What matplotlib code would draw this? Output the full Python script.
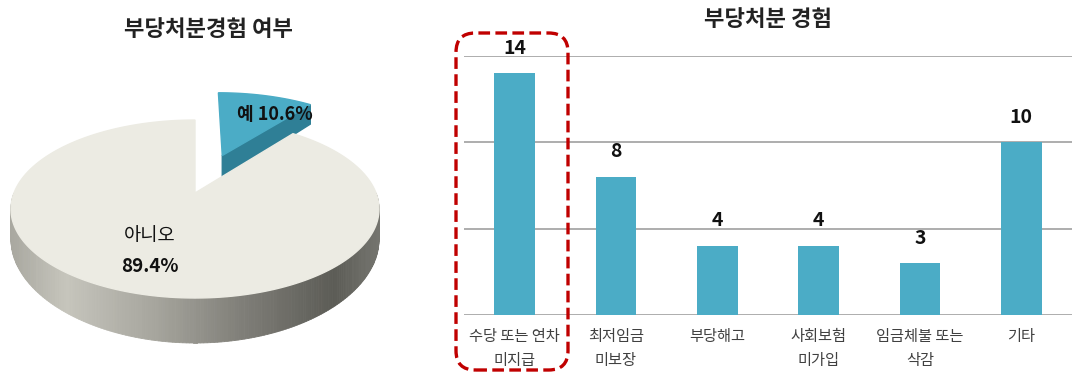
import numpy as np
import matplotlib
matplotlib.use('Agg')
import matplotlib.pyplot as plt
from matplotlib.patches import Polygon, FancyBboxPatch
from matplotlib.colors import LinearSegmentedColormap

plt.rcParams['font.family'] = ['Noto Sans CJK KR', 'DejaVu Sans']

# 데이터
파이_항목 = ['예', '아니오']
파이_비율 = [10.6, 89.4]
막대_항목 = ['수당 또는 연차\n미지급', '최저임금\n미보장', '부당해고',
          '사회보험\n미가입', '임금체불 또는\n삭감', '기타']
막대_값 = [14, 8, 4, 4, 3, 10]

fig = plt.figure(figsize=(10.72, 3.72), dpi=100)

# ---------- 왼쪽: 3D 느낌 파이 ----------
ax1 = fig.add_axes([0, 0, 420 / 1072, 1])
ax1.set_xlim(0, 420)
ax1.set_ylim(372, 0)
ax1.axis('off')

cx, cy = 195, 193
A, B, k = 181, 86.1, 0.18      # 원근 투영
D, k2 = 28.5, 0.367            # 두께
옆면 = LinearSegmentedColormap.from_list('side', [
    (0.0, '#a9a8a0'), (0.15, '#c6c5bc'), (0.4, '#a5a49c'),
    (0.65, '#7c7b75'), (0.88, '#5c5c56'), (1.0, '#74746e')])


def proj(u, v):
    s = 1 / (1 + k * v)
    return (cx + A * u * s, cy - B * v * s)


def drop(v):
    return D / (1 + k2 * v)


def down(p, v):
    return (p[0], p[1] + drop(v))


각도 = np.deg2rad(np.array(파이_비율) / sum(파이_비율) * 360)
# 예 조각 (분리)
t1 = np.pi / 2
t0 = t1 - 각도[0]
m = (t0 + t1) / 2
eu, ev = 0.5 * np.cos(m), 0.5 * np.sin(m)
p_c = proj(eu, ev)
v_e = np.sin(t0) + ev
p_e = proj(np.cos(t0) + eu, v_e)
ax1.add_patch(Polygon([p_c, p_e, down(p_e, v_e), down(p_c, ev)],
                      closed=True, facecolor='#2f7f96', edgecolor='#2f7f96'))
ts = np.linspace(t0, t1, 60)
윗면 = [p_c] + [proj(np.cos(t) + eu, np.sin(t) + ev) for t in ts]
ax1.add_patch(Polygon(윗면, closed=True, facecolor='#4bacc6', edgecolor='#4bacc6'))

# 아니오 조각
s0 = t1
s1 = t1 + 각도[1]
ts = np.linspace(max(s0, np.pi), min(s1, 2 * np.pi), 200)
for i in range(len(ts) - 1):
    va, vb = np.sin(ts[i]), np.sin(ts[i + 1])
    p1, p2 = proj(np.cos(ts[i]), va), proj(np.cos(ts[i + 1]), vb)
    c = 옆면(((p1[0] + p2[0]) / 2 - (cx - 184)) / 368)
    ax1.add_patch(Polygon([p1, p2, down(p2, vb), down(p1, va)],
                          closed=True, facecolor=c, edgecolor=c, linewidth=0.6))
ts = np.linspace(s0, s1, 300)
ax1.add_patch(Polygon([(cx, cy)] + [proj(np.cos(t), np.sin(t)) for t in ts], closed=True,
                      facecolor='#ecebe3', edgecolor='#ecebe3'))

ax1.text(275, 115, '%s %.1f%%' % (파이_항목[0], 파이_비율[0]), ha='center', va='center',
         fontsize=13, fontweight='bold', color='#111111')
ax1.text(150, 235, 파이_항목[1], ha='center', va='center', fontsize=13.5, color='#111111')
ax1.text(150, 267, '%.1f%%' % 파이_비율[1], ha='center', va='center',
         fontsize=13.5, fontweight='bold', color='#111111')
ax1.text(208, 29, '부당처분경험 여부', ha='center', va='center',
         fontsize=16, fontweight='bold', color='#222222')

# ---------- 오른쪽: 막대 ----------
ax2 = fig.add_axes([464 / 1072, 57 / 372, 608 / 1072, 259 / 372])
x = np.arange(len(막대_값))
ax2.bar(x, 막대_값, width=0.4, color='#4bacc6', zorder=2)
ax2.set_xlim(-0.5, 5.5)
ax2.set_ylim(0, 15)
for v in [0, 5, 10, 15]:
    ax2.axhline(v, color='#a0a0a0', linewidth=1.2, zorder=1)
for s in ax2.spines.values():
    s.set_visible(False)
ax2.set_yticks([])
ax2.set_xticks(x)
ax2.set_xticklabels(막대_항목, fontsize=11, color='#404040', linespacing=1.6)
ax2.tick_params(axis='x', length=0, pad=9)
for xi, v in zip(x, 막대_값):
    ax2.annotate(str(v), (xi, v), xytext=(0, 18), textcoords='offset points',
                 ha='center', va='center', fontsize=14, fontweight='bold',
                 color='#111111', annotation_clip=False)
fig.text(768 / 1072, 1 - 20 / 372, '부당처분 경험', ha='center', va='center',
         fontsize=16, fontweight='bold', color='#222222')

# 빨간 점선 상자
box = FancyBboxPatch((456 / 1072, 1 - 370 / 372), 112 / 1072, 337 / 372,
                     boxstyle='round,pad=0,rounding_size=0.018',
                     transform=fig.transFigure, fill=False, edgecolor='#c00000',
                     linewidth=2.4, linestyle=(0, (3.5, 1.6)), mutation_aspect=1072 / 372)
fig.patches.append(box)

fig.savefig('out.png', dpi=100)
